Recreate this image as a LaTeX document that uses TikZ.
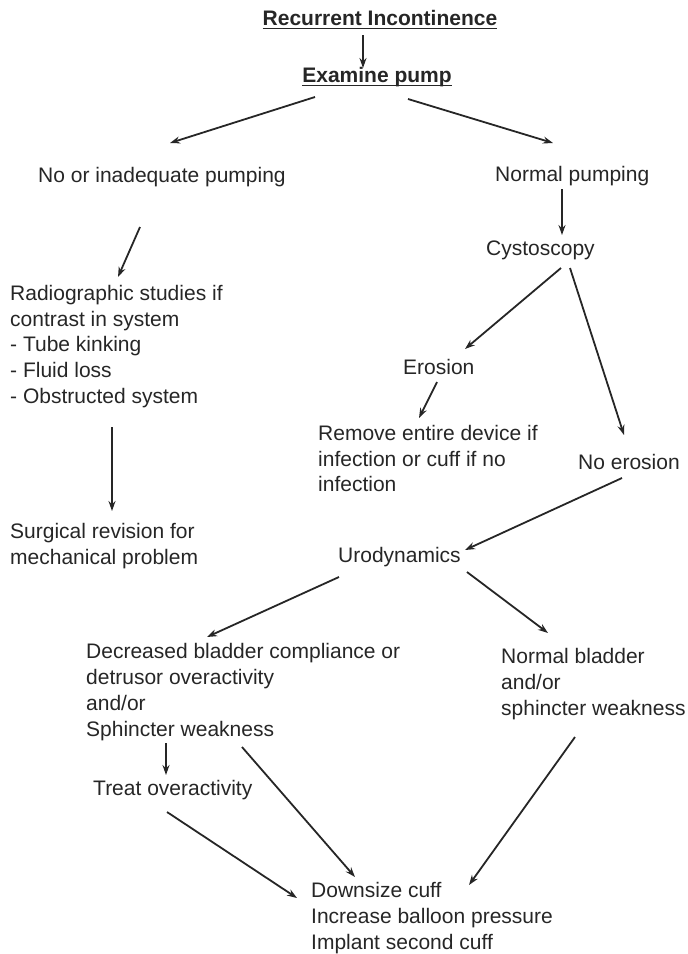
\documentclass[tikz,border=0pt]{standalone}
\usepackage{fontspec}
\setmainfont{Liberation Sans}
\usetikzlibrary{arrows.meta}
\begin{document}
\begin{tikzpicture}[x=1pt,y=-1pt,
  txt/.style={inner sep=0pt,align=left,anchor=west,font=\fontsize{21}{25.8}\selectfont,text=black!85},
  ttl/.style={inner sep=0pt,font=\fontsize{21}{25.8}\selectfont\bfseries,text=black!85},
  arr/.style={line width=1.8pt,draw=black!85,-{Stealth[length=10pt,width=7pt]}},
  ul/.style={line width=1.3pt,draw=black!85}]
\useasboundingbox (0,0) rectangle (688,954);
\node[ttl] (rec) at (380,18) {Recurrent Incontinence};
\node[ttl] (exam) at (377,77) {Examine pump};
\draw[ul] ([yshift=-3pt]rec.base west) -- ([yshift=-3pt]rec.base east);
\draw[ul] ([yshift=-3pt]exam.base west) -- ([yshift=-3pt]exam.base east);
\node[txt] (nop) at (38,177) {No or inadequate pumping};
\node[txt] (norm) at (495,176) {Normal pumping};
\node[txt] (cys) at (486,250) {Cystoscopy};
\node[txt] (rad) at (10,346.5) {Radiographic studies if\\contrast in system\\- Tube kinking\\- Fluid loss\\- Obstructed system};
\node[txt] (surg) at (10,546) {Surgical revision for\\mechanical problem};
\node[txt] (ero) at (403,367) {Erosion};
\node[txt] (rem) at (318,458.5) {Remove entire device if\\infection or cuff if no\\infection};
\node[txt] (noero) at (578,462) {No erosion};
\node[txt] (uro) at (338,557) {Urodynamics};
\node[txt] (dec) at (86,692) {Decreased bladder compliance or\\detrusor overactivity\\and/or\\Sphincter weakness};
\node[txt] (nbl) at (501,684) {Normal bladder\\and/or\\sphincter weakness};
\node[txt] (treat) at (93,790) {Treat overactivity};
\node[txt] (down) at (311,918) {Downsize cuff\\Increase balloon pressure\\Implant second cuff};
% connector end points
\coordinate (a1s) at (363,35);  \coordinate (a1e) at (363,68);
\coordinate (a2s) at (315,97);  \coordinate (a2e) at (170,143);
\coordinate (a3s) at (408,99);  \coordinate (a3e) at (553,143);
\coordinate (a4s) at (562,189); \coordinate (a4e) at (562,235);
\coordinate (a5s) at (140,227); \coordinate (a5e) at (118,277);
\coordinate (a6s) at (112,427); \coordinate (a6e) at (112,511);
\coordinate (a7s) at (561,268); \coordinate (a7e) at (465,349);
\coordinate (a8s) at (570,268); \coordinate (a8e) at (624,435);
\coordinate (a9s) at (437,382); \coordinate (a9e) at (419,418);
\coordinate (a10s) at (622,478); \coordinate (a10e) at (465,550);
\coordinate (a11s) at (339,577); \coordinate (a11e) at (207,637);
\coordinate (a12s) at (467,572); \coordinate (a12e) at (548,633);
\coordinate (a13s) at (166,743); \coordinate (a13e) at (166,775);
\coordinate (a14s) at (242,747); \coordinate (a14e) at (355,877);
\coordinate (a15s) at (167,812); \coordinate (a15e) at (297,898);
\coordinate (a16s) at (575,737); \coordinate (a16e) at (469,885);
\foreach \i in {1,...,16}{\draw[arr] (a\i s) -- (a\i e);}
\end{tikzpicture}
\end{document}
